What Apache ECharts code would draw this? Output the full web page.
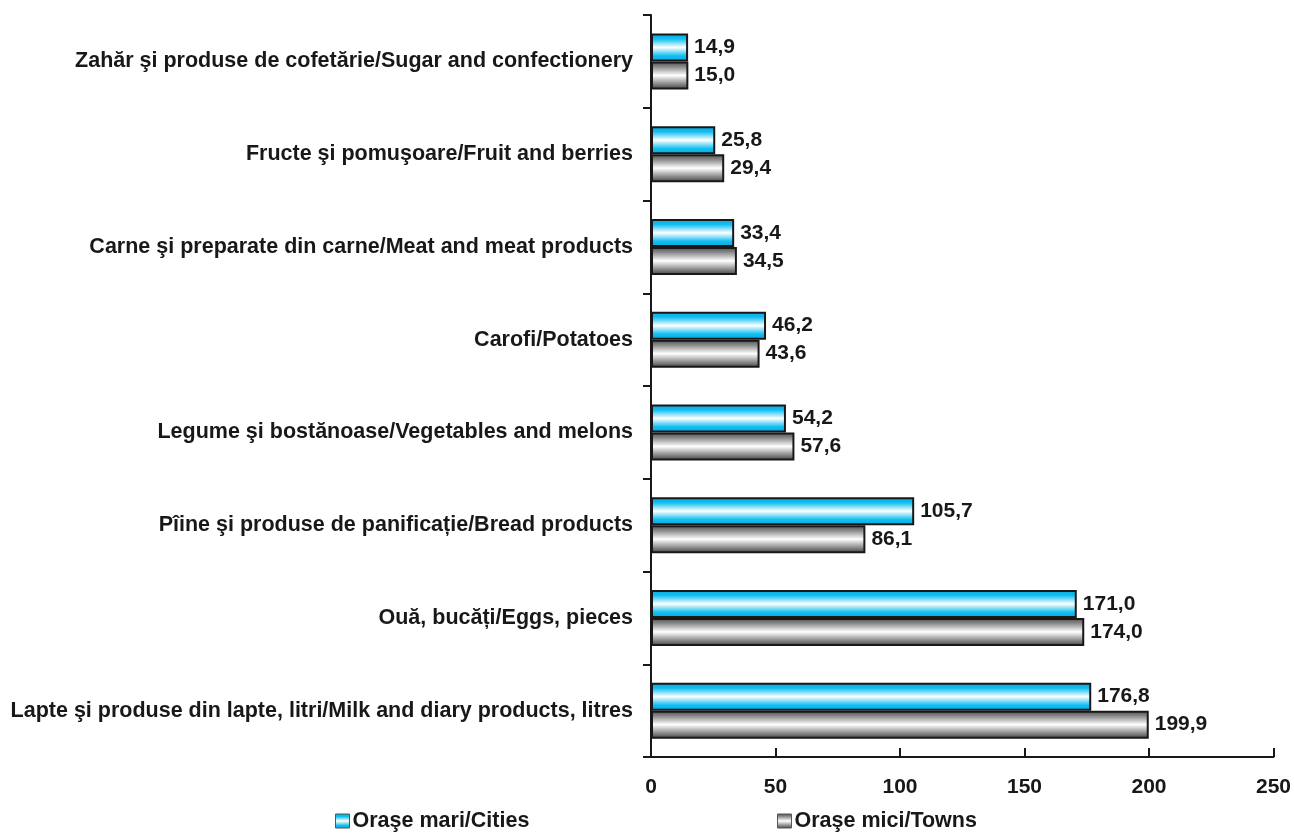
<!DOCTYPE html>
<html>
<head>
<meta charset="utf-8">
<script src="https://cdn.jsdelivr.net/npm/echarts@6/dist/echarts.min.js"></script>
<style>html,body{margin:0;padding:0;background:#fff}#c{width:1294px;height:833px}</style>
</head>
<body>
<div id="c"></div>
<script>
const categories = [
  "Lapte şi produse din lapte, litri/Milk and diary products, litres",
  "Ouă, bucăți/Eggs, pieces",
  "Pîine şi produse de panificație/Bread products",
  "Legume şi bostănoase/Vegetables and melons",
  "Carofi/Potatoes",
  "Carne şi preparate din carne/Meat and meat products",
  "Fructe şi pomuşoare/Fruit and berries",
  "Zahăr şi produse de cofetărie/Sugar and confectionery"
];
const citiesName = "Oraşe mari/Cities";
const townsName = "Oraşe mici/Towns";
const cities = [176.8, 171.0, 105.7, 54.2, 46.2, 33.4, 25.8, 14.9];
const towns = [199.9, 174.0, 86.1, 57.6, 43.6, 34.5, 29.4, 15.0];
const xTicks = [0, 50, 100, 150, 200, 250];

const font = '"Liberation Sans", Arial, sans-serif';
const ink = '#1a1718';
const blueGrad = new echarts.graphic.LinearGradient(0, 0, 0, 1, [
  {offset: 0, color: '#04a8dc'},
  {offset: 0.2, color: '#12bff2'},
  {offset: 0.5, color: '#ffffff'},
  {offset: 0.8, color: '#12bff2'},
  {offset: 1, color: '#04a8dc'}
]);
const grayGrad = new echarts.graphic.LinearGradient(0, 0, 0, 1, [
  {offset: 0, color: '#4a4a4a'},
  {offset: 0.2, color: '#8c8c8c'},
  {offset: 0.5, color: '#ffffff'},
  {offset: 0.8, color: '#8c8c8c'},
  {offset: 1, color: '#404040'}
]);
const fmt = p => p.value.toFixed(1).replace('.', ',');
const labelStyle = {show: true, position: 'right', distance: 6, formatter: fmt,
  fontFamily: font, fontWeight: 'bold', fontSize: 21, color: ink};
const legendText = {fontFamily: font, fontWeight: 'bold', fontSize: 21.5, color: ink, padding: [0, 0, 0, -2]};

const chart = echarts.init(document.getElementById('c'), null, {renderer: 'canvas'});
chart.setOption({
  animation: false,
  backgroundColor: '#ffffff',
  grid: {left: 651, right: 19, top: 15, bottom: 76, containLabel: false},
  legend: [
    {data: [citiesName], icon: 'rect', left: 335, top: 810, itemWidth: 14, itemHeight: 14, itemGap: 0,
     itemStyle: {borderColor: '#555', borderWidth: 1}, textStyle: legendText, padding: 0},
    {data: [townsName], icon: 'rect', left: 777, top: 810, itemWidth: 14, itemHeight: 14, itemGap: 0,
     itemStyle: {borderColor: '#555', borderWidth: 1}, textStyle: legendText, padding: 0}
  ],
  xAxis: {
    type: 'value', min: xTicks[0], max: xTicks[xTicks.length - 1], interval: 50,
    axisLine: {show: true, lineStyle: {color: ink, width: 2}},
    axisTick: {show: true, inside: true, length: 9, lineStyle: {color: ink, width: 2}},
    splitLine: {show: false},
    axisLabel: {margin: 20, fontFamily: font, fontWeight: 'bold', fontSize: 21, color: ink}
  },
  yAxis: {
    type: 'category', data: categories,
    axisLine: {show: true, lineStyle: {color: ink, width: 2}},
    axisTick: {show: true, length: 8, lineStyle: {color: ink, width: 2}},
    axisLabel: {margin: 18, fontFamily: font, fontWeight: 'bold', fontSize: 21.5, color: ink}
  },
  series: [
    {name: citiesName, type: 'bar', data: cities, barWidth: 28, barGap: '0%',
     itemStyle: {color: blueGrad, borderColor: ink, borderWidth: 2},
     label: labelStyle},
    {name: townsName, type: 'bar', data: towns, barWidth: 28,
     itemStyle: {color: grayGrad, borderColor: ink, borderWidth: 2},
     label: labelStyle}
  ]
});
</script>
</body>
</html>
